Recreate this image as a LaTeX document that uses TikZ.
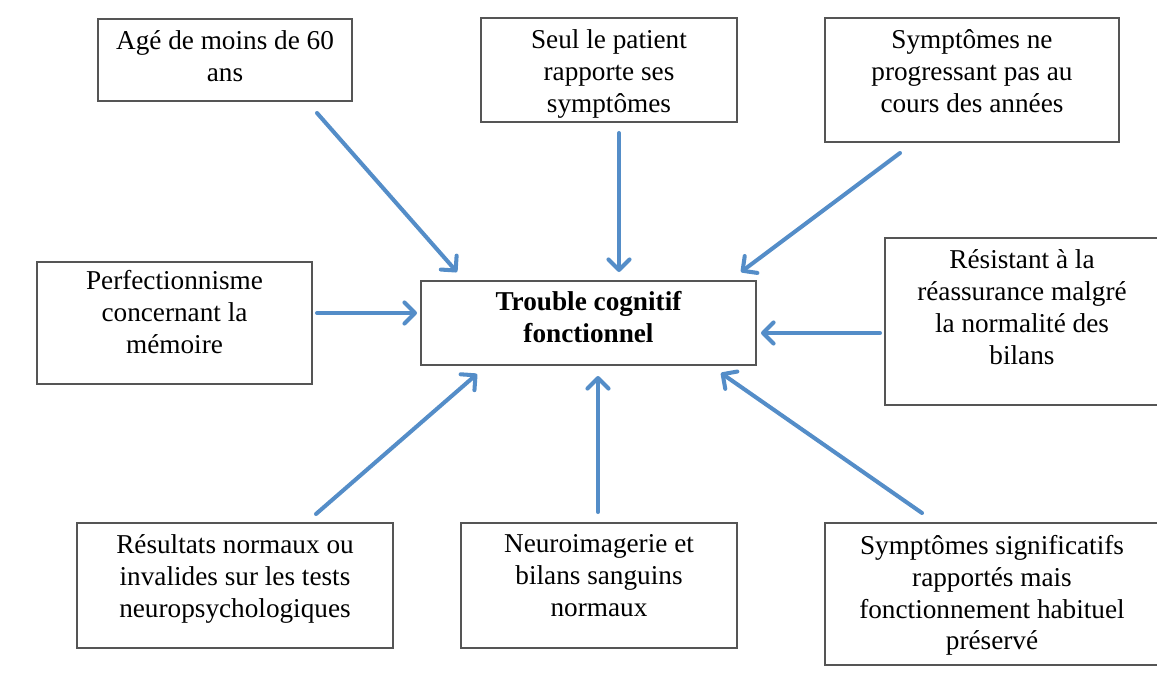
\documentclass[tikz,border=0pt]{standalone}
\usepackage{fontspec}
\setmainfont{Liberation Serif}
\usetikzlibrary{arrows.meta, positioning}

\definecolor{flowblue}{RGB}{84,141,200}
\definecolor{boxgray}{RGB}{85,85,85}

\tikzset{
  box/.style={draw=boxgray, line width=0.9pt, fill=white, inner sep=0pt},
  txt/.style={align=center, inner sep=0pt, font=\fontsize{15.5}{18.2}\selectfont},
  flow/.style={draw=flowblue, line width=2.3pt, line cap=round,
    -{Straight Barb[length=6pt, width=12pt, line cap=round, line join=round]}}
}

\begin{document}
\begin{tikzpicture}[x=0.02cm, y=-0.02cm]
\useasboundingbox (0,0) rectangle (1157,690);

% boxes
\node[box, minimum width=5.08cm, minimum height=1.64cm] (age) at (225,60) {};
\node[box, minimum width=5.12cm, minimum height=2.08cm] (seul) at (609,70) {};
\node[box, minimum width=5.88cm, minimum height=2.48cm] (prog) at (972,80) {};
\node[box, minimum width=5.50cm, minimum height=2.44cm] (perf) at (174.5,323) {};
\node[box, minimum width=6.70cm, minimum height=1.68cm] (tcf) at (588.5,323) {};
\node[box, minimum width=5.48cm, minimum height=3.34cm] (resist) at (1022,321.5) {};
\node[box, minimum width=6.32cm, minimum height=2.50cm] (res) at (235,585.5) {};
\node[box, minimum width=5.52cm, minimum height=2.50cm] (neuro) at (599,585.5) {};
\node[box, minimum width=6.68cm, minimum height=2.84cm] (sig) at (992,594) {};

% texts
\node[txt, below=7pt of age.north] (agetxt) {Agé de moins de 60\\ans};
\node[txt, below=7pt of seul.north] (seultxt) {Seul le patient\\rapporte ses\\symptômes};
\node[txt, below=7pt of prog.north] (progtxt) {Symptômes ne\\progressant pas au\\cours des années};
\node[txt, below=5pt of perf.north] (perftxt) {Perfectionnisme\\concernant la\\mémoire};
\node[txt, below=6pt of tcf.north, font=\fontsize{15.5}{18.2}\selectfont\bfseries] (tcftxt) {Trouble cognitif\\fonctionnel};
\node[txt, below=7pt of resist.north] (resisttxt) {Résistant à la\\réassurance malgré\\la normalité des\\bilans};
\node[txt, below=7pt of res.north] (restxt) {Résultats normaux ou\\invalides sur les tests\\neuropsychologiques};
\node[txt, below=7pt of neuro.north] (neurotxt) {Neuroimagerie et\\bilans sanguins\\normaux};
\node[txt, below=7pt of sig.north] (sigtxt) {Symptômes significatifs\\rapportés mais\\fonctionnement habituel\\préservé};

% arrow ends
\coordinate (ageS) at (317,113);    \coordinate (ageE) at (457,272);
\coordinate (seulS) at (619,133);   \coordinate (seulE) at (619,272);
\coordinate (progS) at (900,153);   \coordinate (progE) at (741,272);
\coordinate (perfS) at (317,313);   \coordinate (perfE) at (417,313);
\coordinate (resistS) at (880,333); \coordinate (resistE) at (761,333);
\coordinate (resS) at (316,514);    \coordinate (resE) at (477,374);
\coordinate (neuroS) at (598,512);  \coordinate (neuroE) at (598,376);
\coordinate (sigS) at (922,513);    \coordinate (sigE) at (721,373);

\draw[flow] (ageS) -- (ageE);
\draw[flow] (seulS) -- (seulE);
\draw[flow] (progS) -- (progE);
\draw[flow] (perfS) -- (perfE);
\draw[flow] (resistS) -- (resistE);
\draw[flow] (resS) -- (resE);
\draw[flow] (neuroS) -- (neuroE);
\draw[flow] (sigS) -- (sigE);
\end{tikzpicture}
\end{document}
